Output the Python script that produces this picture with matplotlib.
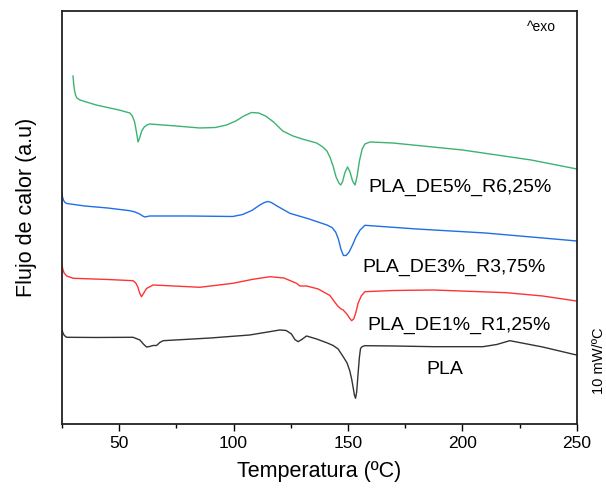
import matplotlib
matplotlib.use("Agg")
import matplotlib.pyplot as plt
from matplotlib.ticker import MultipleLocator

plt.rcParams['font.family'] = ['Liberation Sans', 'DejaVu Sans']

# heat flow curves (arbitrary units)
t_de5 = [29.9, 30.2, 30.6, 31.0, 31.6, 32.9, 40.0, 50.0, 54.7, 55.8, 56.8, 57.6, 58.3, 59.0, 59.9,
         61.0, 62.2, 63.4, 75.0, 85.3, 92.0, 97.0, 101.0, 104.5, 107.9, 111.0, 114.0, 117.5, 121.5,
         126.0, 130.0, 136.3, 139.0, 140.8, 142.1, 143.5, 144.8, 146.0, 146.8, 147.6, 148.6, 149.8,
         150.9, 152.0, 153.1, 154.0, 155.0, 156.2, 157.4, 159.6, 169.6, 200.0, 230.0, 250.0]
q_de5 = [348, 340, 333, 329, 326, 324, 319, 314, 311, 308, 302, 292, 282, 286, 293,
         297, 299, 300, 298, 296, 296.5, 299, 303, 308, 311.5, 311, 308, 302, 293,
         288, 285, 281, 277, 273, 267, 258, 247, 241, 239, 242, 251, 257,
         252, 243, 239, 248, 263, 275, 280, 282, 281, 274, 264, 255]

t_de3 = [25.0, 25.3, 25.8, 26.4, 27.2, 35.0, 45.0, 54.7, 57.0, 59.0, 60.3, 61.3, 63.4, 80.0, 99.7,
         104.0, 108.0, 111.5, 113.5, 115.0, 116.5, 119.0, 124.6, 133.0, 140.8, 143.0, 144.6, 145.8,
         146.9, 148.0, 149.2, 150.5, 152.0, 153.5, 155.3, 157.4, 180.0, 210.0, 250.0]
q_de3 = [232, 227, 223.5, 221.5, 220.5, 218, 216, 213.3, 212, 210, 208, 207, 208, 208, 207.5,
         209.5, 213.5, 219, 221.5, 222.5, 221.5, 218, 210.7, 205, 199, 196.5, 192, 185,
         175, 168.5, 168.5, 172, 179, 187, 194, 198.7, 195, 191, 183]

t_de1 = [25.0, 25.4, 26.0, 27.1, 30.0, 45.0, 56.1, 57.3, 58.2, 59.0, 59.8, 60.7, 62.0, 64.9, 85.3,
         99.8, 108.0, 115.9, 122.0, 127.5, 129.0, 131.9, 137.0, 142.1, 144.5, 145.7, 147.0, 147.9,
         149.5, 150.8, 151.6, 152.5, 153.4, 154.4, 155.8, 157.4, 170.0, 187.2, 219.2, 235.0, 249.8]
q_de1 = [160, 155, 151, 148, 145.7, 144.5, 143.3, 141, 137, 131, 127.3, 130.5, 135.5, 139, 136.7,
         140.7, 144.5, 147.3, 146, 140.7, 138, 138, 135, 128.5, 121, 117.5, 115, 114,
         110, 105.5, 103.3, 105, 111, 120.7, 128, 132.3, 133.5, 134, 131.3, 128, 123]

t_pla = [25.1, 25.5, 26.1, 27.1, 40.0, 56.1, 59.1, 60.6, 62.0, 63.4, 64.9, 66.4, 67.8, 69.3, 90.0,
         107.1, 115.0, 120.2, 123.0, 125.3, 126.8, 128.2, 129.8, 131.9, 136.3, 141.0, 143.5, 145.7,
         147.9, 149.6, 150.8, 151.6, 152.3, 152.8, 153.3, 153.8, 154.4, 155.0, 155.5, 156.3, 157.4,
         170.0, 187.2, 209.0, 215.0, 220.7, 235.0, 249.8]
q_pla = [94, 91, 88.5, 86.7, 86.5, 86.7, 84, 80, 77, 77.5, 78.5, 78.5, 81.5, 83.3, 86,
         89, 92, 94, 93.5, 90, 84.5, 82.3, 84.5, 88, 85, 81, 78.5, 75,
         67.3, 61, 53, 45, 36, 29, 25.7, 32, 50, 67, 75.7, 77.5, 78.3,
         78, 77.3, 77.3, 79.5, 83.3, 77, 69]

names = ["PLA_DE5%_R6,25%", "PLA_DE3%_R3,75%", "PLA_DE1%_R1,25%", "PLA"]
colors = ["#3cb371", "#1f6fe6", "#ff3333", "#333333"]

fig = plt.figure(figsize=(6.06, 4.91), dpi=100)
ax = fig.add_axes([0.102, 0.1365, 0.850, 0.8411])

ax.plot(t_de5, q_de5, color=colors[0], lw=1.0)
ax.plot(t_de3, q_de3, color=colors[1], lw=1.0)
ax.plot(t_de1, q_de1, color=colors[2], lw=1.0)
ax.plot(t_pla, q_pla, color=colors[3], lw=1.0)

ax.text(198.9, 237, names[0], fontsize=14, ha="center", va="center")
ax.text(196.3, 157, names[1], fontsize=14, ha="center", va="center")
ax.text(198.4, 99, names[2], fontsize=14, ha="center", va="center")
ax.text(192.3, 54, names[3], fontsize=14, ha="center", va="center")

ax.text(0.932, 0.961, "^exo", fontsize=10, ha="center", va="center", transform=ax.transAxes)
ax.text(1.043, 0.153, "10 mW/ºC", fontsize=10.5, ha="center", va="center", rotation=90,
        transform=ax.transAxes)

ax.set_xlim(25, 250)
ax.set_ylim(0, 413)
ax.xaxis.set_major_locator(MultipleLocator(50))
ax.xaxis.set_minor_locator(MultipleLocator(25))
ax.set_yticks([])
ax.tick_params(axis="x", which="major", length=5, width=1, labelsize=12.5, direction="out")
ax.tick_params(axis="x", which="minor", length=3, width=1, direction="out")
for s in ax.spines.values():
    s.set_linewidth(1.3)
    s.set_color("#222222")

ax.set_xlabel("Temperatura (ºC)", fontsize=15.5, labelpad=7)
ax.set_ylabel("Flujo de calor (a.u)", fontsize=15.5)
ax.yaxis.set_label_coords(-0.048, 0.525)

fig.savefig("out.png", dpi=100)
